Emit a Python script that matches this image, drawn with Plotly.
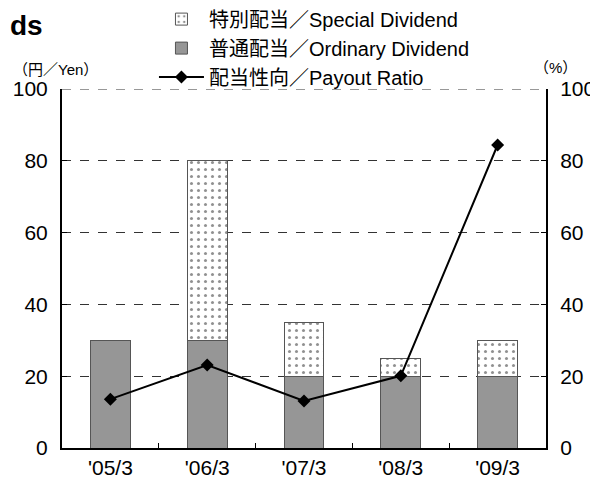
import plotly.graph_objects as go

categories = ["'05/3", "'06/3", "'07/3", "'08/3", "'09/3"]
ordinary_dividend = [30, 30, 20, 20, 20]
special_dividend = [0, 50, 15, 5, 10]
payout_ratio = [13.6, 23.1, 13.1, 20.1, 84.4]

FONT = "Liberation Sans, Arial, Noto Sans CJK JP, sans-serif"

fig = go.Figure()
fig.add_trace(go.Bar(
    x=categories, y=ordinary_dividend, name="普通配当／Ordinary Dividend",
    marker=dict(color="#969696", line=dict(color="#555555", width=1)),
    width=0.41, legendrank=2,
))
fig.add_trace(go.Bar(
    x=categories, y=special_dividend, name="特別配当／Special Dividend",
    marker=dict(color="white", line=dict(color="#555555", width=1),
                pattern=dict(shape=".", fgcolor="#222222", bgcolor="white", size=7, solidity=0.15)),
    width=0.41, legendrank=1,
))
fig.add_trace(go.Scatter(
    x=categories, y=payout_ratio, name="配当性向／Payout Ratio", yaxis="y2",
    mode="lines+markers", line=dict(color="black", width=2),
    marker=dict(symbol="diamond", size=10, color="black"), legendrank=3,
))

axis_common = dict(range=[0, 100], dtick=20, ticks="inside", ticklen=5, tickwidth=1,
                   tickcolor="black", showline=True, linecolor="black", linewidth=2,
                   tickfont=dict(size=21, color="black", family=FONT), zeroline=False,
                   ticklabelstandoff=8)

fig.update_layout(
    width=590, height=482,
    margin=dict(l=54, r=52, t=81, b=42, autoexpand=False),
    plot_bgcolor="white", paper_bgcolor="white",
    barmode="stack", bargap=0.59,
    font=dict(family=FONT, color="black"),
    showlegend=True,
    legend=dict(x=0.19, y=1.249, xanchor="left", yanchor="top", traceorder="normal",
                font=dict(size=20, family=FONT), itemwidth=45, tracegroupgap=0,
                bgcolor="rgba(0,0,0,0)"),
    xaxis=dict(showline=True, linecolor="black", linewidth=2, ticks="inside",
               tickson="boundaries", ticklen=5, tickcolor="black",
               tickfont=dict(size=21, color="black", family=FONT)),
    yaxis=dict(**axis_common, showgrid=True, gridcolor="#333333", gridwidth=1, griddash="dash"),
    yaxis2=dict(**axis_common, overlaying="y", side="right", showgrid=False),
    shapes=[dict(type="line", xref="paper", yref="y", x0=0, x1=1, y0=100, y1=100,
                 line=dict(color="#333333", width=1, dash="dash"))],
    annotations=[
        dict(text="<b>ds</b>", xref="paper", yref="paper", x=-0.112, y=1.2256,
             xanchor="left", yanchor="top", showarrow=False,
             font=dict(size=28, family=FONT, color="black")),
        dict(text="（円／Yen）", xref="paper", yref="paper", x=-0.106, y=1.055,
             xanchor="left", yanchor="middle", showarrow=False,
             font=dict(size=15, family=FONT, color="black")),
        dict(text="（%）", xref="paper", yref="paper", x=1.02, y=1.06,
             xanchor="center", yanchor="middle", showarrow=False,
             font=dict(size=15, family=FONT, color="black")),
    ],
)

fig.write_html("out.html")
